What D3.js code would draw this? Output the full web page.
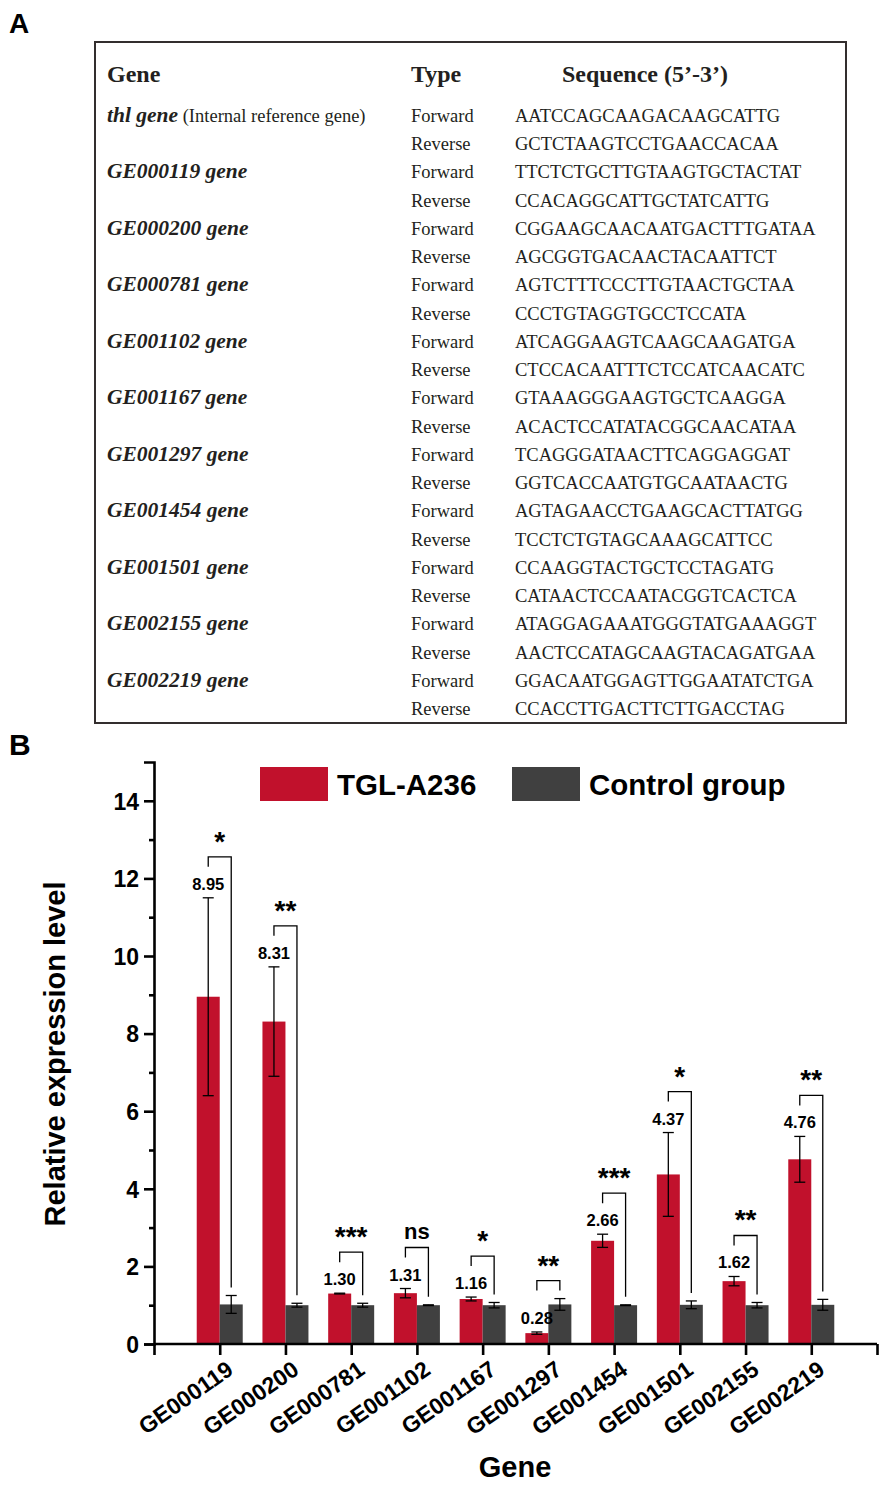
<!DOCTYPE html>
<html lang="en">
<head>
<meta charset="UTF-8">
<title>Primers and relative expression</title>
<script src="https://cdn.jsdelivr.net/npm/d3@7"></script>
<style>
  body { margin: 0; background: #fff; }
  .serif { font-family: "Liberation Serif", "Times New Roman", serif; fill: #231f20; }
  .sans { font-family: "Liberation Sans", Arial, sans-serif; font-weight: bold; fill: #000; }
</style>
</head>
<body>
<div id="fig"></div>
<script>
// ---- panel A : primer table ----
const primerGenes = ["thl gene", "GE000119 gene", "GE000200 gene", "GE000781 gene", "GE001102 gene",
  "GE001167 gene", "GE001297 gene", "GE001454 gene", "GE001501 gene", "GE002155 gene", "GE002219 gene"];
const forwardSeqs = ["AATCCAGCAAGACAAGCATTG", "TTCTCTGCTTGTAAGTGCTACTAT", "CGGAAGCAACAATGACTTTGATAA",
  "AGTCTTTCCCTTGTAACTGCTAA", "ATCAGGAAGTCAAGCAAGATGA", "GTAAAGGGAAGTGCTCAAGGA",
  "TCAGGGATAACTTCAGGAGGAT", "AGTAGAACCTGAAGCACTTATGG", "CCAAGGTACTGCTCCTAGATG",
  "ATAGGAGAAATGGGTATGAAAGGT", "GGACAATGGAGTTGGAATATCTGA"];
const reverseSeqs = ["GCTCTAAGTCCTGAACCACAA", "CCACAGGCATTGCTATCATTG", "AGCGGTGACAACTACAATTCT",
  "CCCTGTAGGTGCCTCCATA", "CTCCACAATTTCTCCATCAACATC", "ACACTCCATATACGGCAACATAA",
  "GGTCACCAATGTGCAATAACTG", "TCCTCTGTAGCAAAGCATTCC", "CATAACTCCAATACGGTCACTCA",
  "AACTCCATAGCAAGTACAGATGAA", "CCACCTTGACTTCTTGACCTAG"];

// ---- panel B : qPCR bars ----
const genes = ["GE000119", "GE000200", "GE000781", "GE001102", "GE001167",
  "GE001297", "GE001454", "GE001501", "GE002155", "GE002219"];
const tglMean = [8.95, 8.31, 1.30, 1.31, 1.16, 0.28, 2.66, 4.37, 1.62, 4.76];
const tglErr = [2.55, 1.41, 0.01, 0.12, 0.05, 0.03, 0.17, 1.08, 0.12, 0.59];
const ctrlMean = [1.02, 1.00, 1.00, 1.00, 1.00, 1.02, 1.00, 1.01, 1.00, 1.01];
const ctrlErr = [0.23, 0.05, 0.05, 0.01, 0.07, 0.15, 0.01, 0.10, 0.07, 0.14];
const signif = ["*", "**", "***", "ns", "*", "**", "***", "*", "**", "**"];
const yTicks = [0, 2, 4, 6, 8, 10, 12, 14];
const series = ["TGL-A236", "Control group"];

const red = "#c1112c", grey = "#404040";

const svg = d3.select("#fig").append("svg")
  .attr("width", 886).attr("height", 1486);

// panel letters
svg.append("text").attr("class", "sans").attr("x", 9).attr("y", 33)
  .style("font-size", "28px").text("A");
svg.append("text").attr("class", "sans").attr("x", 9).attr("y", 755)
  .style("font-size", "30px").text("B");

// table frame
svg.append("rect").attr("x", 95).attr("y", 42).attr("width", 751).attr("height", 681)
  .attr("fill", "none").attr("stroke", "#332e2e").attr("stroke-width", 2);

const colGene = 107, colType = 411, colSeq = 515;
svg.append("text").attr("class", "serif").attr("x", colGene).attr("y", 82)
  .style("font-size", "24px").style("font-weight", "bold").text("Gene");
svg.append("text").attr("class", "serif").attr("x", colType).attr("y", 82)
  .style("font-size", "24px").style("font-weight", "bold").text("Type");
svg.append("text").attr("class", "serif").attr("x", 562).attr("y", 82)
  .style("font-size", "24px").style("font-weight", "bold").text("Sequence (5\u2019-3\u2019)");

const rowY = d3.scaleLinear().domain([0, 21]).range([122, 715]);

const rows = svg.append("g").selectAll("g").data(primerGenes).join("g");
rows.each(function (g, i) {
  const sel = d3.select(this);
  const t = sel.append("text").attr("class", "serif").attr("x", colGene).attr("y", rowY(2 * i));
  t.append("tspan").style("font-size", "21.5px").style("font-weight", "bold")
    .style("font-style", "italic").text(g);
  if (i === 0) t.append("tspan").style("font-size", "18.5px").text(" (Internal reference gene)");
  [["Forward", forwardSeqs[i]], ["Reverse", reverseSeqs[i]]].forEach((d, k) => {
    sel.append("text").attr("class", "serif").attr("x", colType).attr("y", rowY(2 * i + k))
      .style("font-size", "18.5px").text(d[0]);
    sel.append("text").attr("class", "serif").attr("x", colSeq).attr("y", rowY(2 * i + k))
      .style("font-size", "18.5px").text(d[1]);
  });
});

// ---- bar chart ----
const x = d3.scaleLinear().domain([0, genes.length + 1]).range([154, 877]);
const y = d3.scaleLinear().domain([0, 15]).range([1344, 762]);
const bw = 23;

const chart = svg.append("g");

// bars
chart.selectAll("rect.tgl").data(genes).join("rect").attr("class", "tgl")
  .attr("x", (d, i) => x(i + 1) - bw).attr("width", bw)
  .attr("y", (d, i) => y(tglMean[i])).attr("height", (d, i) => y(0) - y(tglMean[i]))
  .attr("fill", red);
chart.selectAll("rect.ctrl").data(genes).join("rect").attr("class", "ctrl")
  .attr("x", (d, i) => x(i + 1)).attr("width", bw)
  .attr("y", (d, i) => y(ctrlMean[i])).attr("height", (d, i) => y(0) - y(ctrlMean[i]))
  .attr("fill", grey);

// error bars
function errorBar(cx, m, e) {
  const g = chart.append("g").attr("stroke", "#000").attr("stroke-width", 1.3).attr("fill", "none");
  g.append("line").attr("x1", cx).attr("x2", cx).attr("y1", y(m - e)).attr("y2", y(m + e));
  g.append("line").attr("x1", cx - 5.5).attr("x2", cx + 5.5).attr("y1", y(m + e)).attr("y2", y(m + e));
  g.append("line").attr("x1", cx - 5.5).attr("x2", cx + 5.5).attr("y1", y(m - e)).attr("y2", y(m - e));
}
genes.forEach((g, i) => {
  errorBar(x(i + 1) - bw / 2, tglMean[i], tglErr[i]);
  errorBar(x(i + 1) + bw / 2, ctrlMean[i], ctrlErr[i]);
});

// value labels, brackets, significance
genes.forEach((g, i) => {
  const lx = x(i + 1) - bw / 2, rx = x(i + 1) + bw / 2;
  const redTop = y(tglMean[i] + tglErr[i]);
  const greyTop = y(ctrlMean[i] + ctrlErr[i]);
  chart.append("text").attr("class", "sans").attr("x", lx).attr("y", redTop - 8)
    .attr("text-anchor", "middle").style("font-size", "16.5px").text(tglMean[i].toFixed(2));
  const top = Math.min(redTop - 41, greyTop - 18);
  chart.append("path")
    .attr("d", `M${lx},${top + 10}V${top}H${rx}V${greyTop - 8}`)
    .attr("fill", "none").attr("stroke", "#000").attr("stroke-width", 1.3);
  const isNs = signif[i] === "ns";
  chart.append("text").attr("class", "sans").attr("x", (lx + rx) / 2).attr("y", top - (isNs ? 9 : 6))
    .attr("text-anchor", "middle").style("font-size", isNs ? "22px" : "28px")
    .text(signif[i]);
});

// axes
const yAxis = chart.append("g").attr("transform", `translate(${x(0)},0)`)
  .call(d3.axisLeft(y).tickValues(yTicks).tickSize(10).tickPadding(5).tickFormat(d3.format("d")));
chart.append("g").attr("transform", `translate(${x(0)},0)`)
  .call(d3.axisLeft(y).tickValues(d3.range(1, 15, 2)).tickSize(5).tickFormat(""))
  .call(g => g.select(".domain").remove());
yAxis.selectAll("text").attr("class", "sans").style("font-size", "23px").attr("dy", "0.36em");

const xAxis = chart.append("g").attr("transform", `translate(0,${y(0)})`)
  .call(d3.axisBottom(x).tickValues(d3.range(0, genes.length + 2)).tickSize(11).tickFormat(""));
xAxis.select(".domain").attr("d", `M${x(0)},0H${x(genes.length + 1)}`);

chart.selectAll(".domain, .tick line").attr("stroke", "#000").attr("stroke-width", 2.6);

chart.selectAll("text.xlab").data(genes).join("text").attr("class", "sans xlab")
  .attr("text-anchor", "end").style("font-size", "23px")
  .attr("transform", (d, i) => `translate(${x(i + 1) + 15},${y(0) + 29}) rotate(-35)`)
  .text(d => d);

// axis titles
svg.append("text").attr("class", "sans").attr("text-anchor", "middle")
  .attr("transform", "translate(65,1054) rotate(-90)").style("font-size", "29px")
  .text("Relative expression level");
svg.append("text").attr("class", "sans").attr("text-anchor", "middle")
  .attr("x", 515).attr("y", 1477).style("font-size", "29px").text("Gene");

// legend
const legendX = [260, 512];
const legend = svg.append("g").selectAll("g").data(series).join("g")
  .attr("transform", (d, i) => `translate(${legendX[i]},767)`);
legend.append("rect").attr("width", 68).attr("height", 34)
  .attr("fill", (d, i) => i === 0 ? red : grey);
legend.append("text").attr("class", "sans").attr("x", 77).attr("y", 28)
  .style("font-size", "29.5px").text(d => d);
</script>
</body>
</html>
